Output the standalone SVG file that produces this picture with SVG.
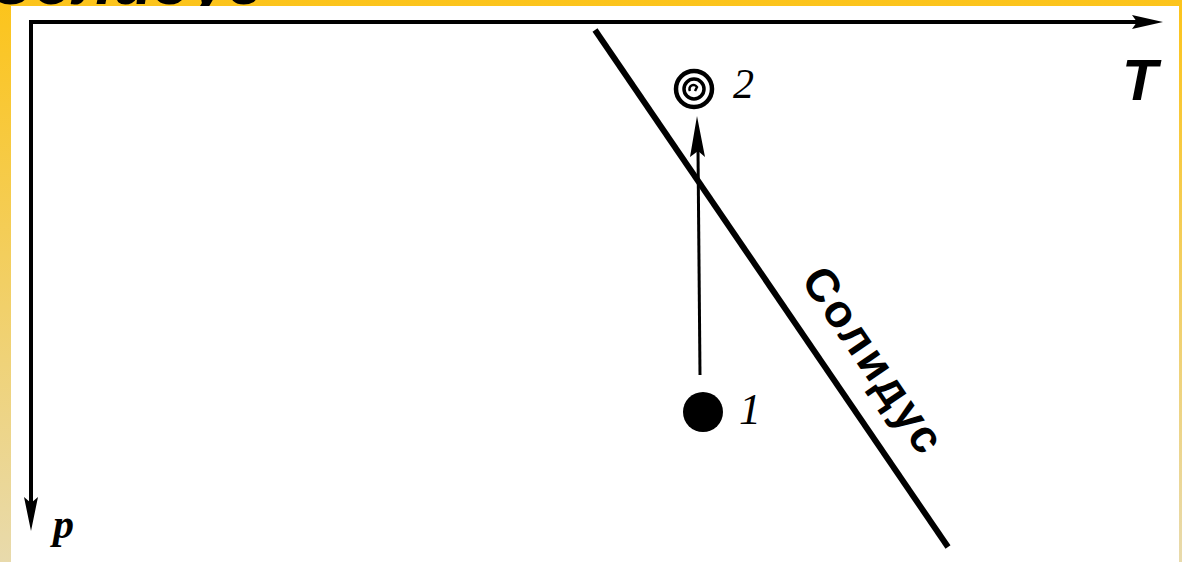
<svg xmlns="http://www.w3.org/2000/svg" width="1182" height="562" viewBox="0 0 1182 562">
<defs>
<linearGradient id="bg" x1="0" y1="0" x2="0" y2="1">
<stop offset="0" stop-color="#FCC41B"/>
<stop offset="1" stop-color="#E8DAAC"/>
</linearGradient>
<style>
.ax{stroke:#000;stroke-width:4;fill:none}
.head{fill:#000}
.lbl{font-family:"Liberation Serif",serif;font-style:italic;fill:#000}
.sans{font-family:"Liberation Sans",Arial,sans-serif;fill:#000}
</style>
</defs>
<rect x="0" y="0" width="1182" height="562" fill="url(#bg)"/>
<text x="-12" y="4" class="sans" font-size="64" font-style="italic" font-weight="bold">Солидус</text>
<rect x="11" y="6" width="1168" height="556" fill="#fff"/>
<g id="axes">
<path class="ax" d="M31,24 V505 M29,22 H1140"/>
<polygon class="head" points="1163,22 1132,15 1137,22 1132,29"/>
<polygon class="head" points="31,531 24,497 31,503 38,497"/>
<text x="1122" y="100" class="sans" font-size="58" font-style="italic" font-weight="bold">T</text>
<text x="53" y="538" class="lbl" font-size="42" font-weight="bold">p</text>
</g>
<g id="solidus">
<line x1="595" y1="30" x2="948" y2="547" stroke="#000" stroke-width="6"/>
<text transform="translate(800,280) rotate(55.8)" class="sans" font-size="46" font-weight="bold" textLength="214" lengthAdjust="spacing">Солидус</text>
</g>
<g id="point1">
<circle cx="703" cy="412" r="20" fill="#000"/>
<text x="739" y="424" class="lbl" font-size="44">1</text>
</g>
<g id="point2">
<circle cx="694" cy="89" r="18" fill="none" stroke="#000" stroke-width="4.5"/>
<circle cx="694" cy="89" r="10" fill="none" stroke="#000" stroke-width="3.5"/>
<path d="M690,91 A4,4 0 1 1 697,87 L695,91" fill="none" stroke="#000" stroke-width="2.5"/>
<text x="733" y="98" class="lbl" font-size="42">2</text>
</g>
<g id="connectors">
<line x1="700" y1="375" x2="698" y2="150" stroke="#000" stroke-width="3"/>
<polygon class="head" points="697,116 690,157 698,151 705,157"/>
</g>
</svg>
